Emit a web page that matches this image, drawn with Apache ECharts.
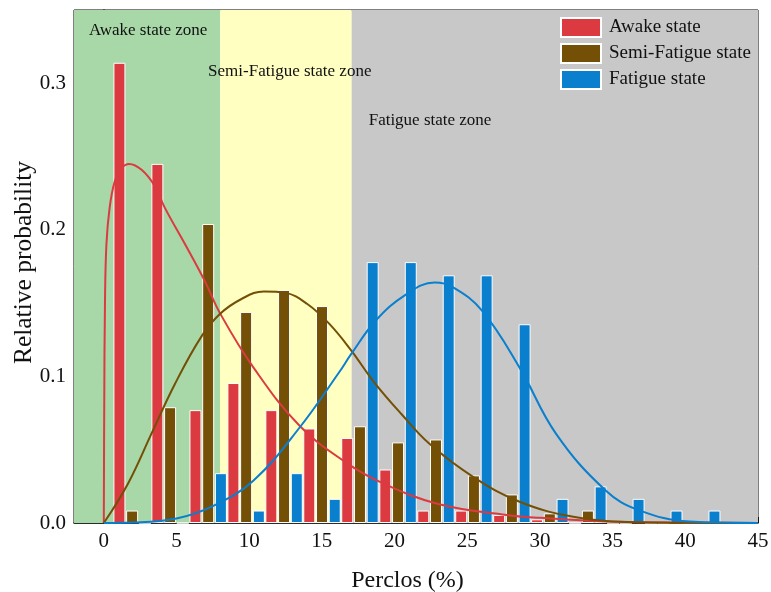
<!DOCTYPE html>
<html>
<head>
<meta charset="utf-8">
<script src="https://cdn.jsdelivr.net/npm/echarts@6/dist/echarts.min.js"></script>
<style>
  html, body { margin: 0; padding: 0; background: #fff; }
  #chart { width: 771px; height: 592px; }
</style>
</head>
<body>
<div id="chart"></div>
<script>
// bin centres (Perclos %)
const binCenters = [1.95, 4.56, 7.18, 9.79, 12.40, 15.01, 17.62, 20.24, 22.85, 25.46, 28.07, 30.68, 33.30, 35.91, 38.52, 41.13]

// relative probability per bin
const awakeBars = [0.314, 0.245, 0.077, 0.0955, 0.077, 0.0645, 0.058, 0.0365, 0.0085, 0.0085, 0.0055, 0.0025, 0, 0, 0, 0]
const semiBars = [0.0085, 0.079, 0.204, 0.144, 0.159, 0.148, 0.066, 0.055, 0.057, 0.0325, 0.0195, 0.0066, 0.0085, 0, 0, 0]
const fatigueBars = [0, 0, 0.034, 0.0085, 0.034, 0.0165, 0.178, 0.178, 0.169, 0.169, 0.1356, 0.0165, 0.025, 0.0165, 0.0085, 0.0085]

// fitted curves, points
const awakeCurve = [[0, 0], [0.03, 0.08], [0.08, 0.15], [0.18, 0.19], [0.4, 0.215], [0.75, 0.233], [1.2, 0.242], [1.75, 0.245],
  [2.6, 0.241], [3.5, 0.23], [4.2, 0.215], [5.6, 0.19], [6.95, 0.165], [8.0, 0.143], [10.3, 0.106], [13.5, 0.066],
  [16.7, 0.041], [19.0, 0.028], [23.0, 0.013], [27.7, 0.0055], [30, 0.0035], [34.5, 0.001], [40, 0.0002], [45, 0]]
const semiCurve = [[0, 0], [1.67, 0.027], [3.28, 0.061], [4.9, 0.095], [6.7, 0.127], [8.0, 0.1427], [9.5, 0.153], [11.0, 0.158],
  [12.5, 0.157], [14.0, 0.1494], [15.5, 0.136], [17.0, 0.118], [18.6, 0.096], [20.5, 0.074], [22.4, 0.054], [25.4, 0.0315],
  [28.6, 0.0145], [32.3, 0.0043], [36.8, 0.0005], [45, 0]]
const fatigueCurve = [[0, 0], [2, 0.0003], [5, 0.003], [7.6, 0.012], [10.3, 0.029], [13.5, 0.0655], [16.2, 0.103], [17.0, 0.115],
  [18.7, 0.138], [20.8, 0.156], [22.75, 0.164], [24.0, 0.161], [26.0, 0.145], [28.6, 0.106], [31.1, 0.061], [34.5, 0.0224],
  [36.8, 0.0088], [40.3, 0.001], [45, 0]]

// zone limits
const zones = [
  { name: 'Awake state zone', from: -2.05, to: 8 },
  { name: 'Semi-Fatigue state zone', from: 8, to: 17.05 },
  { name: 'Fatigue state zone', from: 17.05, to: 45 }
]
const xTicks = [0, 5, 10, 15, 20, 25, 30, 35, 40, 45]

const FONT = "'Liberation Serif', 'Times New Roman', serif"
const RED = '#db3a40'
const BROWN = '#744f06'
const BLUE = '#0a7fce'
const zoneColors = ['#a8d8a8', '#ffffc2', '#c8c8c8']
const zoneLabelOffsets = [[15, 12], [-12, 53], [17, 102]]

const chart = echarts.init(document.getElementById('chart'))

const pairs = vals => vals.map((v, i) => [binCenters[i], v])

const barSeries = (name, vals, color) => ({
  name,
  type: 'bar',
  data: pairs(vals),
  barWidth: 12,
  barGap: '6%',
  z: 3,
  itemStyle: { color, borderColor: '#fff', borderWidth: 1 }
})

const curveSeries = (name, pts, color) => ({
  name,
  type: 'line',
  data: pts,
  smooth: 0.4,
  showSymbol: false,
  clip: true,
  z: 5,
  lineStyle: { color, width: 2 }
})

chart.setOption({
  animation: false,
  grid: {
    left: 74, right: 13, top: 10, bottom: 69,
    outerBoundsMode: 'none',
    containLabel: false,
    show: true, borderColor: '#000', borderWidth: 1
  },
  legend: {
    data: ['Awake state', 'Semi-Fatigue state', 'Fatigue state'],
    orient: 'vertical',
    left: 555,
    top: 12,
    icon: 'rect',
    itemWidth: 40,
    itemHeight: 19,
    itemGap: 5,
    textStyle: { fontFamily: FONT, fontSize: 19, color: '#111', padding: [0, 0, 0, 3] }
  },
  xAxis: {
    type: 'value',
    min: -2.05,
    max: 45,
    name: 'Perclos (%)',
    nameLocation: 'middle',
    nameGap: 46,
    nameMoveOverlap: false,
    nameTextStyle: { fontFamily: FONT, fontSize: 24, color: '#111', padding: [0, 17, 0, 0] },
    axisLine: { lineStyle: { color: '#111', width: 1.5 } },
    axisTick: { inside: true, length: 6, customValues: xTicks, lineStyle: { color: '#111' } },
    axisLabel: { customValues: xTicks, fontFamily: FONT, fontSize: 21, color: '#111', margin: 8 },
    splitLine: { show: false }
  },
  yAxis: {
    type: 'value',
    min: 0,
    max: 0.35,
    interval: 0.1,
    name: 'Relative probability',
    nameLocation: 'middle',
    nameGap: 37,
    nameMoveOverlap: false,
    nameTextStyle: { fontFamily: FONT, fontSize: 25.5, color: '#111', padding: [0, 0, 0, 8] },
    axisLine: { show: true, lineStyle: { color: '#111', width: 1.5 } },
    axisTick: { show: true, inside: true, length: 6, lineStyle: { color: '#111' } },
    axisLabel: {
      fontFamily: FONT, fontSize: 21, color: '#111', margin: 8,
      showMaxLabel: false,
      formatter: v => v.toFixed(1)
    },
    splitLine: { show: false }
  },
  series: [
    {
      name: 'zones',
      type: 'line',
      data: [],
      z: 0,
      silent: true,
      markArea: {
        silent: true,
        data: zones.map((zn, i) => [
          {
            xAxis: zn.from, yAxis: 0,
            itemStyle: { color: zoneColors[i] },
            label: {
              show: true,
              formatter: zn.name,
              position: 'insideTopLeft',
              distance: 0,
              offset: zoneLabelOffsets[i],
              fontFamily: FONT,
              fontSize: 17,
              color: '#111'
            }
          },
          { xAxis: zn.to, yAxis: 0.35 }
        ])
      }
    },
    barSeries('Awake state', awakeBars, RED),
    barSeries('Semi-Fatigue state', semiBars, BROWN),
    barSeries('Fatigue state', fatigueBars, BLUE),
    curveSeries('Awake fit', awakeCurve, RED),
    curveSeries('Semi-Fatigue fit', semiCurve, BROWN),
    curveSeries('Fatigue fit', fatigueCurve, BLUE)
  ]
})
</script>
</body>
</html>
